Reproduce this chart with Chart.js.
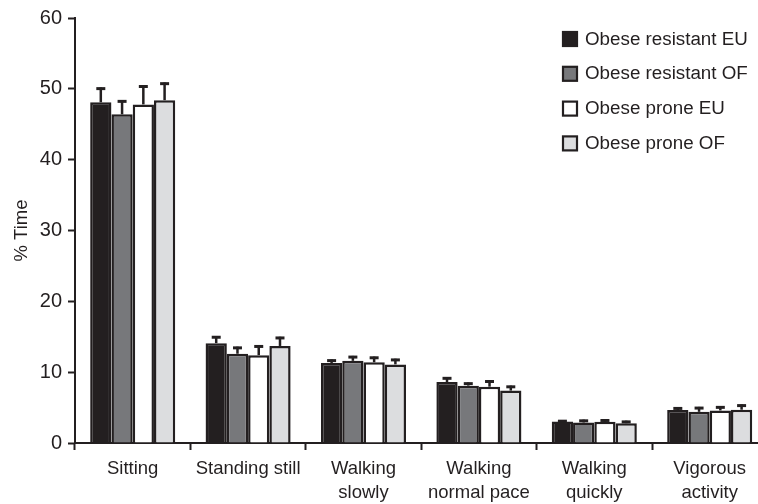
<!DOCTYPE html>
<html>
<head>
<meta charset="utf-8">
<script src="https://cdn.jsdelivr.net/npm/chart.js@4/dist/chart.umd.min.js"></script>
<style>
  html, body { margin: 0; padding: 0; background: #fff; overflow: hidden; }
  #wrap { width: 770px; height: 504px; }
</style>
</head>
<body>
<div id="wrap"><canvas id="c" width="770" height="504"></canvas></div>
<script>
// Share of time spent in each activity, by group (mean and upper error)
const categories = [
  'Sitting',
  'Standing still',
  ['Walking', 'slowly'],
  ['Walking', 'normal pace'],
  ['Walking', 'quickly'],
  ['Vigorous', 'activity']
];
const seriesNames = ['Obese resistant EU', 'Obese resistant OF', 'Obese prone EU', 'Obese prone OF'];

const resistantEU = [48.1, 14.1, 11.3, 8.6, 3.05, 4.65];
const resistantOF = [46.4, 12.6, 11.6, 8.1, 2.9, 4.4];
const proneEU     = [47.8, 12.4, 11.4, 7.95, 3.0, 4.6];
const proneOF     = [48.4, 13.7, 11.1, 7.4, 2.8, 4.7];

const resistantEUErr = [2.1, 1.0, 0.5, 0.7, 0.2, 0.4];
const resistantOFErr = [2.0, 1.0, 0.7, 0.45, 0.4, 0.7];
const proneEUErr     = [2.7, 1.4, 0.8, 0.9, 0.35, 0.6];
const proneOFErr     = [2.5, 1.3, 0.8, 0.7, 0.35, 0.75];

const yTicks = [0, 10, 20, 30, 40, 50, 60];

const ink = '#231f20';
const fills = ['#231f20', '#77787b', '#ffffff', '#dcdddf'];
const FONT = "'Liberation Sans', Arial, Helvetica, sans-serif";

const values = [resistantEU, resistantOF, proneEU, proneOF];
const errors = [resistantEUErr, resistantOFErr, proneEUErr, proneOFErr];

const datasets = seriesNames.map((name, i) => ({
  label: name,
  data: values[i],
  errors: errors[i],
  backgroundColor: fills[i],
  borderColor: ink,
  borderWidth: 2.5,
  borderSkipped: 'bottom',
  categoryPercentage: 0.737,
  barPercentage: 1.0
}));

// Upward-only error bars with a T cap
const errorBars = {
  id: 'errorBars',
  afterDatasetsDraw(chart) {
    const { ctx } = chart;
    const y = chart.scales.y;
    ctx.save();
    ctx.strokeStyle = ink;
    chart.data.datasets.forEach((ds, i) => {
      const meta = chart.getDatasetMeta(i);
      meta.data.forEach((bar, j) => {
        const top = y.getPixelForValue(ds.data[j] + ds.errors[j]);
        ctx.lineWidth = 2.5;
        ctx.beginPath();
        ctx.moveTo(bar.x, bar.y);
        ctx.lineTo(bar.x, top);
        ctx.stroke();
        ctx.lineWidth = 3;
        ctx.beginPath();
        ctx.moveTo(bar.x - 4.5, top + 1.2);
        ctx.lineTo(bar.x + 4.5, top + 1.2);
        ctx.stroke();
      });
    });
    ctx.restore();
  }
};

// Vertical legend with square swatches inside the plot
const boxLegend = {
  id: 'boxLegend',
  afterDraw(chart) {
    const { ctx } = chart;
    ctx.save();
    ctx.font = '18.8px ' + FONT;
    ctx.textBaseline = 'middle';
    ctx.textAlign = 'left';
    chart.data.datasets.forEach((ds, i) => {
      const cy = 38.5 + i * 34.8;
      ctx.fillStyle = ds.backgroundColor;
      ctx.fillRect(563, cy - 6.5, 14, 14);
      ctx.strokeStyle = ink;
      ctx.lineWidth = 2.2;
      ctx.strokeRect(563, cy - 6.5, 14, 14);
      ctx.fillStyle = ink;
      ctx.fillText(ds.label, 585, cy + 1);
    });
    ctx.restore();
  }
};

new Chart(document.getElementById('c'), {
  type: 'bar',
  data: { labels: categories, datasets },
  plugins: [errorBars, boxLegend],
  options: {
    responsive: false,
    animation: false,
    layout: { padding: { top: 18, right: 2.6, left: 0, bottom: 0 } },
    plugins: { legend: { display: false }, tooltip: { enabled: false } },
    scales: {
      x: {
        offset: true,
        grid: { display: true, drawOnChartArea: false, offset: true, tickLength: 7, tickWidth: 2, tickColor: ink },
        border: { display: true, color: ink, width: 2 },
        ticks: {
          color: ink,
          font: { family: FONT, size: 18.5, lineHeight: 1.3 },
          padding: 7,
          maxRotation: 0,
          autoSkip: false
        },
        afterFit(scale) { scale.height = 61; }
      },
      y: {
        min: 0,
        max: 60,
        afterBuildTicks(scale) { scale.ticks = yTicks.map(v => ({ value: v })); },
        grid: { display: true, drawOnChartArea: false, tickLength: 7, tickWidth: 2, tickColor: ink },
        border: { display: true, color: ink, width: 2 },
        ticks: {
          color: ink,
          font: { family: FONT, size: 20 },
          padding: 6
        },
        title: {
          display: true,
          text: '% Time',
          color: ink,
          font: { family: FONT, size: 18.5 },
          padding: { top: 11, bottom: 0 }
        },
        afterFit(scale) { scale.width = 75; }
      }
    }
  }
});
</script>
</body>
</html>
